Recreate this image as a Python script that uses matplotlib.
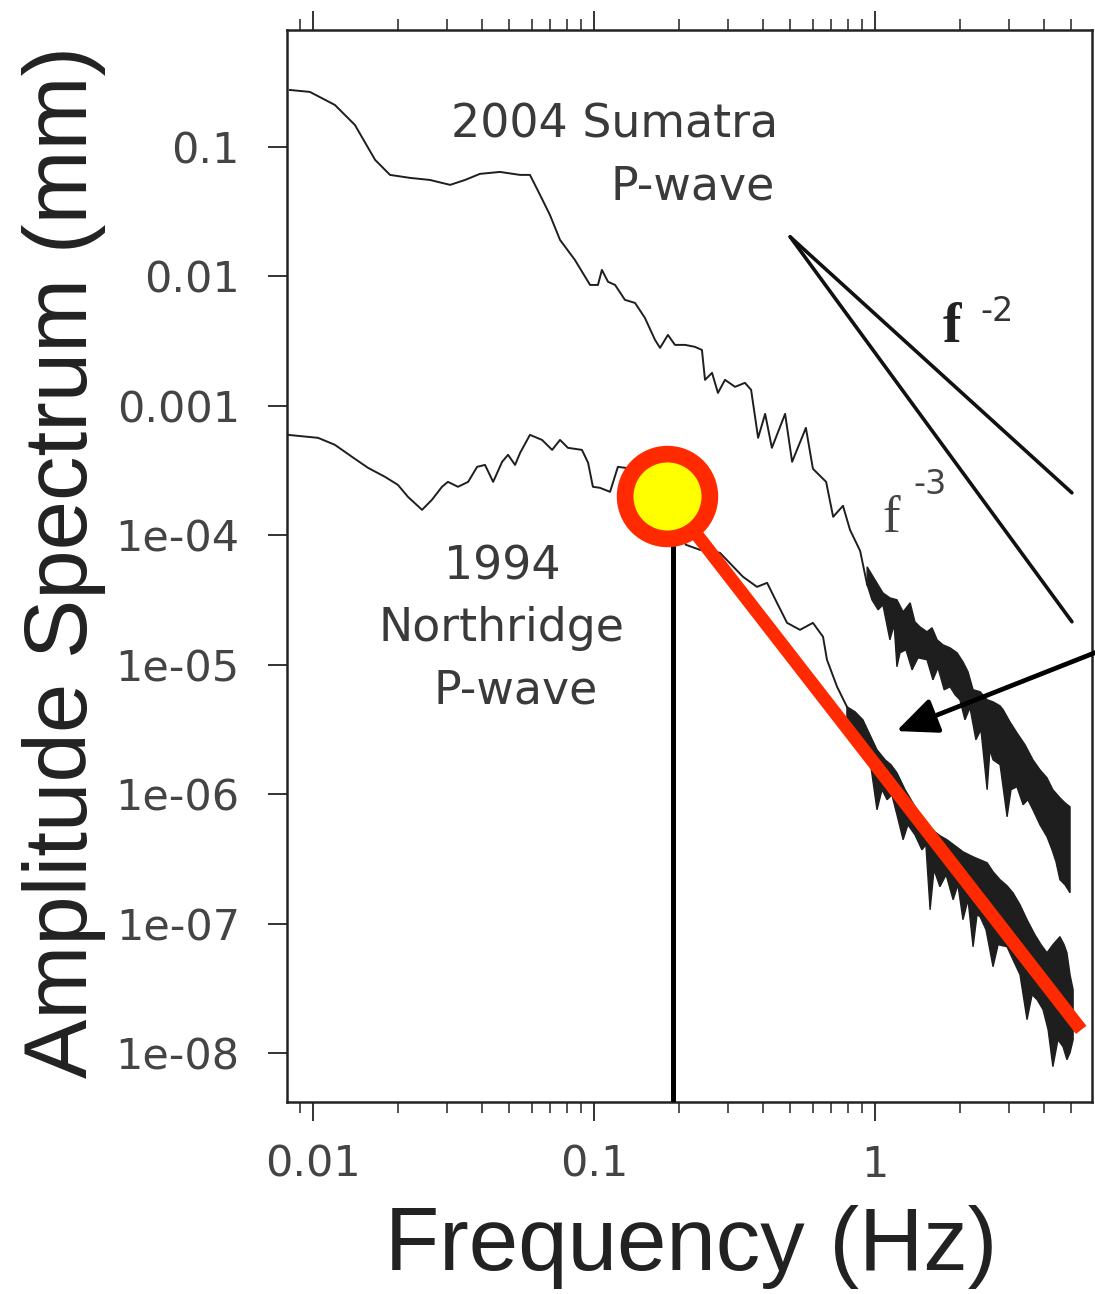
import numpy as np
import matplotlib
matplotlib.use('Agg')
import matplotlib.pyplot as plt

# Values, stored as log10(frequency in Hz) and log10(amplitude in mm)
sumatra_log_f = [-2.082, -2.011, -1.922, -1.851, -1.779, -1.726, -1.655, -1.584, -1.512, -1.459,
                 -1.406, -1.335, -1.263, -1.228, -1.192, -1.157, -1.121, -1.068, -1.014, -0.986,
                 -0.972, -0.950, -0.925, -0.890, -0.854, -0.819, -0.783, -0.765, -0.737, -0.712,
                 -0.676, -0.641, -0.616, -0.605, -0.580, -0.559, -0.534, -0.498, -0.463, -0.441,
                 -0.416, -0.391, -0.367, -0.320, -0.295, -0.246, -0.221, -0.174, -0.149, -0.114,
                 -0.089, -0.053, -0.028]
sumatra_log_amp = [-0.560, -0.575, -0.676, -0.830, -1.100, -1.216, -1.239, -1.255, -1.293, -1.255,
                   -1.208, -1.193, -1.216, -1.216, -1.371, -1.525, -1.718, -1.873, -2.066, -2.066,
                   -1.950, -2.042, -2.066, -2.181, -2.205, -2.320, -2.490, -2.552, -2.452, -2.529,
                   -2.529, -2.544, -2.568, -2.799, -2.745, -2.900, -2.799, -2.853, -2.822, -2.876,
                   -3.247, -3.062, -3.324, -3.062, -3.432, -3.170, -3.486, -3.587, -3.857, -3.772,
                   -3.958, -4.120, -4.382]

# noisy high-frequency part of each spectrum: upper and lower envelopes
sumatra_hi_log_f = [-0.028, 0.000, 0.028, 0.053, 0.078, 0.100, 0.125, 0.142, 0.160, 0.185,
                    0.203, 0.221, 0.242, 0.267, 0.292, 0.313, 0.331, 0.349, 0.374, 0.399,
                    0.420, 0.445, 0.456, 0.480, 0.505, 0.534, 0.562, 0.587, 0.612, 0.633,
                    0.658, 0.676, 0.694]
sumatra_hi_log_amp = [-4.243, -4.344, -4.444, -4.483, -4.498, -4.591, -4.521, -4.668, -4.707, -4.745,
                      -4.714, -4.807, -4.846, -4.869, -4.907, -4.977, -5.054, -5.193, -5.208, -5.270,
                      -5.286, -5.317, -5.347, -5.440, -5.525, -5.618, -5.734, -5.811, -5.873, -5.965,
                      -6.027, -6.066, -6.097]
sumatra_lo_log_f = [-0.028, -0.011, 0.011, 0.028, 0.053, 0.068, 0.078, 0.089, 0.110, 0.132,
                    0.153, 0.185, 0.206, 0.224, 0.246, 0.267, 0.285, 0.302, 0.320, 0.338,
                    0.359, 0.377, 0.399, 0.409, 0.420, 0.445, 0.470, 0.484, 0.505, 0.527,
                    0.544, 0.562, 0.587, 0.612, 0.630, 0.644, 0.658, 0.676, 0.694]
sumatra_lo_log_amp = [-4.382, -4.498, -4.575, -4.537, -4.807, -4.691, -5.015, -4.907, -4.884, -5.039,
                      -4.946, -4.961, -5.116, -5.023, -5.193, -5.170, -5.232, -5.270, -5.425, -5.332,
                      -5.579, -5.502, -5.965, -5.656, -5.734, -5.772, -6.174, -5.965, -5.942, -6.081,
                      -6.042, -6.120, -6.236, -6.328, -6.429, -6.521, -6.660, -6.699, -6.761]

northridge_log_f = [-2.089, -1.982, -1.922, -1.861, -1.804, -1.744, -1.698, -1.662, -1.612, -1.577,
                    -1.541, -1.520, -1.484, -1.448, -1.416, -1.388, -1.359, -1.327, -1.306, -1.281,
                    -1.263, -1.228, -1.185, -1.149, -1.121, -1.093, -1.043, -1.021, -1.004, -0.979,
                    -0.943, -0.915, -0.836, -0.747, -0.673, -0.623, -0.552, -0.470, -0.420, -0.384,
                    -0.349, -0.313, -0.267, -0.221, -0.185, -0.171, -0.135, -0.100]
northridge_log_amp = [-3.224, -3.247, -3.301, -3.394, -3.479, -3.548, -3.610, -3.703, -3.803, -3.726,
                      -3.625, -3.587, -3.625, -3.587, -3.471, -3.456, -3.587, -3.432, -3.378, -3.456,
                      -3.363, -3.224, -3.263, -3.340, -3.263, -3.324, -3.340, -3.440, -3.625, -3.633,
                      -3.664, -3.471, -3.494, -3.726, -4.073, -4.112, -4.135, -4.320, -4.398, -4.367,
                      -4.521, -4.676, -4.730, -4.676, -4.784, -4.961, -5.170, -5.324]

northridge_hi_log_f = [-0.100, -0.071, -0.043, -0.018, 0.007, 0.036, 0.057, 0.078, 0.107, 0.128,
                       0.149, 0.178, 0.203, 0.231, 0.256, 0.285, 0.313, 0.349, 0.374, 0.399,
                       0.420, 0.445, 0.470, 0.491, 0.516, 0.541, 0.569, 0.591, 0.612, 0.633,
                       0.658, 0.673, 0.683, 0.694, 0.705]
northridge_hi_log_amp = [-5.324, -5.363, -5.425, -5.541, -5.656, -5.734, -5.772, -5.834, -5.965, -6.042,
                         -6.120, -6.212, -6.274, -6.320, -6.351, -6.398, -6.444, -6.483, -6.506, -6.529,
                         -6.598, -6.660, -6.707, -6.761, -6.853, -6.969, -7.085, -7.162, -7.224, -7.162,
                         -7.100, -7.162, -7.224, -7.394, -7.510]
northridge_lo_log_f = [-0.100, -0.071, -0.043, -0.018, 0.007, 0.025, 0.043, 0.060, 0.078, 0.100,
                       0.117, 0.142, 0.167, 0.181, 0.196, 0.210, 0.231, 0.253, 0.278, 0.295,
                       0.313, 0.331, 0.349, 0.363, 0.374, 0.395, 0.420, 0.438, 0.470, 0.491,
                       0.516, 0.541, 0.559, 0.577, 0.598, 0.616, 0.633, 0.651, 0.669, 0.683,
                       0.694, 0.705]
northridge_lo_log_amp = [-5.425, -5.541, -5.618, -5.734, -6.120, -5.965, -6.042, -6.004, -6.158, -6.351,
                         -6.236, -6.313, -6.429, -6.390, -6.892, -6.583, -6.714, -6.622, -6.815, -6.699,
                         -6.969, -6.815, -7.178, -6.931, -6.946, -7.046, -7.332, -7.162, -7.178, -7.278,
                         -7.394, -7.741, -7.548, -7.587, -7.664, -7.819, -8.104, -7.896, -7.950, -8.050,
                         -7.996, -7.896]

# slope guide lines (f^-2 and f^-3)
guide_f = [0.499, 5.02]
guide_f2_amp = [0.0202, 2.13e-4]
guide_f3_amp = [0.0202, 2.15e-5]

# corner frequency marker, vertical drop and red fall-off line
corner_f = [0.182]
corner_amp = [2.0e-4]
drop_f = [0.191, 0.191]
drop_amp = [2.0e-4, 1e-9]
falloff_f = [0.182, 5.24]
falloff_amp = [2.0e-4, 1.66e-8]

x_ticks = [0.01, 0.1, 1]
x_tick_labels = ['0.01', '0.1', '1']
y_ticks = [1e-8, 1e-7, 1e-6, 1e-5, 1e-4, 1e-3, 1e-2, 1e-1]
y_tick_labels = ['1e-08', '1e-07', '1e-06', '1e-05', '1e-04', '0.001', '0.01', '0.1']


def tenpow(a):
    return np.power(10.0, np.array(a, dtype=float))


def noisy_band(ax, hi_f, hi_a, lo_f, lo_a, color):
    xs = np.concatenate([tenpow(hi_f), tenpow(lo_f)[::-1]])
    ys = np.concatenate([tenpow(hi_a), tenpow(lo_a)[::-1]])
    ax.fill(xs, ys, facecolor=color, edgecolor=color, lw=1.0, joinstyle='miter', zorder=3)


plt.rcParams['font.family'] = ['Liberation Sans', 'DejaVu Sans']

fig = plt.figure(figsize=(10.95, 12.94), dpi=100)
ax = fig.add_axes([0.2621, 0.1484, 0.7352, 0.8284])
ax.set_xscale('log')
ax.set_yscale('log')
ax.set_xlim(0.00808, 5.92)
ax.set_ylim(4.2e-9, 0.80)

line_c = '#1e1e1e'
# spectra
ax.plot(tenpow(sumatra_log_f), tenpow(sumatra_log_amp), color=line_c, lw=1.4, zorder=3)
noisy_band(ax, sumatra_hi_log_f, sumatra_hi_log_amp, sumatra_lo_log_f, sumatra_lo_log_amp, line_c)
ax.plot(tenpow(northridge_log_f), tenpow(northridge_log_amp), color=line_c, lw=1.4, zorder=3)
noisy_band(ax, northridge_hi_log_f, northridge_hi_log_amp, northridge_lo_log_f, northridge_lo_log_amp, line_c)

# slope guides
ax.plot(guide_f, guide_f2_amp, color='#111111', lw=2.6, solid_capstyle='round', zorder=3)
ax.plot(guide_f, guide_f3_amp, color='#111111', lw=2.6, solid_capstyle='round', zorder=3)

# corner frequency overlay
ax.plot(drop_f, drop_amp, color='black', lw=3.6, zorder=4)
ax.plot(falloff_f, falloff_amp, color='#FF2A00', lw=9.5, zorder=5)
ax.plot(corner_f, corner_amp, 'o', ms=61, mfc='#FFFF00', mec='#FF2A00', mew=12, zorder=6)

# arrow coming in from the right edge
ax.annotate('', xy=(0.757, 0.346), xycoords='axes fraction',
            xytext=(1.01, 0.421), textcoords='axes fraction',
            arrowprops=dict(arrowstyle='-|>,head_length=1.25,head_width=0.55', mutation_scale=20,
                            color='black', lw=3.4, shrinkA=0, shrinkB=0),
            annotation_clip=False, zorder=7)

# labels inside the plot
txt_c = '#3a3a3a'
txt_font = 'DejaVu Sans'
ax.text(0.610, 0.900, '2004 Sumatra', transform=ax.transAxes, ha='right', va='baseline',
        fontsize=33, color=txt_c, family=txt_font)
ax.text(0.606, 0.842, 'P-wave', transform=ax.transAxes, ha='right', va='baseline',
        fontsize=33, color=txt_c, family=txt_font)
ax.text(0.267, 0.487, '1994', transform=ax.transAxes, ha='center', va='baseline',
        fontsize=33, color=txt_c, family=txt_font)
ax.text(0.266, 0.430, 'Northridge', transform=ax.transAxes, ha='center', va='baseline',
        fontsize=33, color=txt_c, family=txt_font)
ax.text(0.284, 0.372, 'P-wave', transform=ax.transAxes, ha='center', va='baseline',
        fontsize=33, color=txt_c, family=txt_font)

ax.text(0.815, 0.709, 'f', transform=ax.transAxes, ha='left', va='baseline',
        fontsize=40, fontweight='bold', color='#222222', family='Liberation Serif')
ax.text(0.861, 0.729, '-2', transform=ax.transAxes, ha='left', va='baseline',
        fontsize=24, color='#333333', family=txt_font)
ax.text(0.740, 0.532, 'f', transform=ax.transAxes, ha='left', va='baseline',
        fontsize=38, color='#444444', family='Liberation Serif')
ax.text(0.778, 0.567, '-3', transform=ax.transAxes, ha='left', va='baseline',
        fontsize=24, color='#444444', family=txt_font)

# axes styling
ax.set_xticks(x_ticks)
ax.set_xticklabels(x_tick_labels, family=txt_font)
ax.set_yticks(y_ticks)
ax.set_yticklabels(y_tick_labels, family=txt_font)
ax.yaxis.set_minor_locator(matplotlib.ticker.NullLocator())
ax.tick_params(axis='x', which='both', direction='out', top=True, bottom=True,
               labeltop=False, colors='#333333', labelcolor='#444444')
ax.tick_params(axis='x', which='major', length=14, width=1.4, labelsize=31, pad=16)
ax.tick_params(axis='x', which='minor', length=8, width=1.2)
ax.tick_params(axis='y', which='major', direction='out', left=True, right=False,
               length=14, width=1.4, labelsize=31, pad=20, colors='#333333', labelcolor='#444444')
for sp in ax.spines.values():
    sp.set_linewidth(1.8)
    sp.set_color('#222222')

ax.set_xlabel('Frequency (Hz)', fontsize=64, color='#222222')
ax.xaxis.set_label_coords(0.502, -0.096)
ax.set_ylabel('Amplitude Spectrum (mm)', fontsize=64, color='#222222')
ax.yaxis.set_label_coords(-0.225, 0.504)

fig.savefig('out.png', dpi=100)
